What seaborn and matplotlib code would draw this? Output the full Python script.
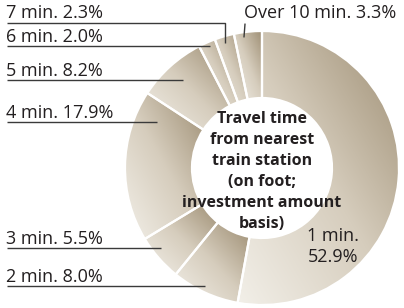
import numpy as np
import matplotlib
matplotlib.use("Agg")
import matplotlib.pyplot as plt
import seaborn as sns
from matplotlib.colors import LinearSegmentedColormap

categories = ["1 min.", "2 min.", "3 min.", "4 min.", "5 min.", "6 min.", "7 min.", "Over 10 min."]
shares = [52.9, 8.0, 5.5, 17.9, 8.2, 2.0, 2.3, 3.3]
center_lines = ["Travel time", "from nearest", "train station", "(on foot;", "investment amount", "basis)"]

sns.set_theme(style="white")
plt.rcParams["font.family"] = ["Open Sans", "DejaVu Sans"]

W, H = 404, 308
fig = plt.figure(figsize=(W / 100, H / 100), dpi=100)
ax = fig.add_axes([0, 0, 1, 1])

def Y(y):
    return H - y

cx, cy, R, r_in = 262, 168, 137, 70
wedges, _ = ax.pie(shares, center=(cx, Y(cy)), radius=R, startangle=90, counterclock=False,
                   wedgeprops=dict(width=R - r_in, linewidth=0, edgecolor="white"), frame=True)
ax.set_xlim(0, W)
ax.set_ylim(0, H)
ax.set_aspect("equal")
ax.axis("off")

cmap = LinearSegmentedColormap.from_list("sand", ["#f2efe8", "#d6cdbd", "#9d8d72"])
for w in wedges:
    w.set_facecolor("none")
    bb = w.get_path().get_extents(w.get_patch_transform())
    x0, x1, y0, y1 = bb.x0, bb.x1, bb.y0, bb.y1
    n = 100
    xx, yy = np.meshgrid(np.linspace(0, 1, n), np.linspace(1, 0, n))
    g = (xx + yy) / 2.0
    im = ax.imshow(g, extent=(x0, x1, y0, y1), cmap=cmap, vmin=0, vmax=1,
                   origin="upper", interpolation="bilinear", zorder=1, aspect="auto")
    im.set_clip_path(w)
for w in wedges:
    w.set_edgecolor("white")
    w.set_linewidth(1.6)
    w.set_zorder(2)

ax.set_xlim(0, W)
ax.set_ylim(0, H)

tc = "#231f20"
lc = "#3a3a3a"
fs = 13

labels = [
    (f"7 min. {shares[6]}%", 23, [(7, 23), (225, 23), (225, 43)]),
    (f"6 min. {shares[5]}%", 46, [(7, 46), (210, 46)]),
    (f"5 min. {shares[4]}%", 80, [(7, 80), (183, 80)]),
    (f"4 min. {shares[3]}%", 122, [(7, 122), (157, 122)]),
    (f"3 min. {shares[2]}%", 248, [(7, 248), (161, 248)]),
    (f"2 min. {shares[1]}%", 286, [(7, 286), (205, 286)]),
]
for txt, ly, pts in labels:
    ax.text(6, Y(ly - 0.5), txt, fontsize=fs, color=tc, ha="left", va="bottom", zorder=5)
    xs = [p[0] for p in pts]
    ys = [Y(p[1]) for p in pts]
    ax.plot(xs, ys, color=lc, lw=1.0, zorder=4, solid_capstyle="butt")

ax.text(244, Y(21.5), f"Over 10 min. {shares[7]}%", fontsize=fs, color=tc, ha="left", va="bottom", zorder=5)
ax.plot([245, 244], [Y(24), Y(37)], color=lc, lw=1.0, zorder=4)

ax.text(333, Y(241), "1 min.", fontsize=fs, color=tc, ha="center", va="baseline", zorder=5)
ax.text(333, Y(262), f"{shares[0]}%", fontsize=fs, color=tc, ha="center", va="baseline", zorder=5)

baselines = [123, 144, 165, 186, 207, 228]
for line, b in zip(center_lines, baselines):
    ax.text(cx, Y(b), line, fontsize=11.5, fontweight="bold", color=tc, ha="center",
            va="baseline", zorder=5)

fig.savefig("out.png", dpi=100, facecolor="white")
